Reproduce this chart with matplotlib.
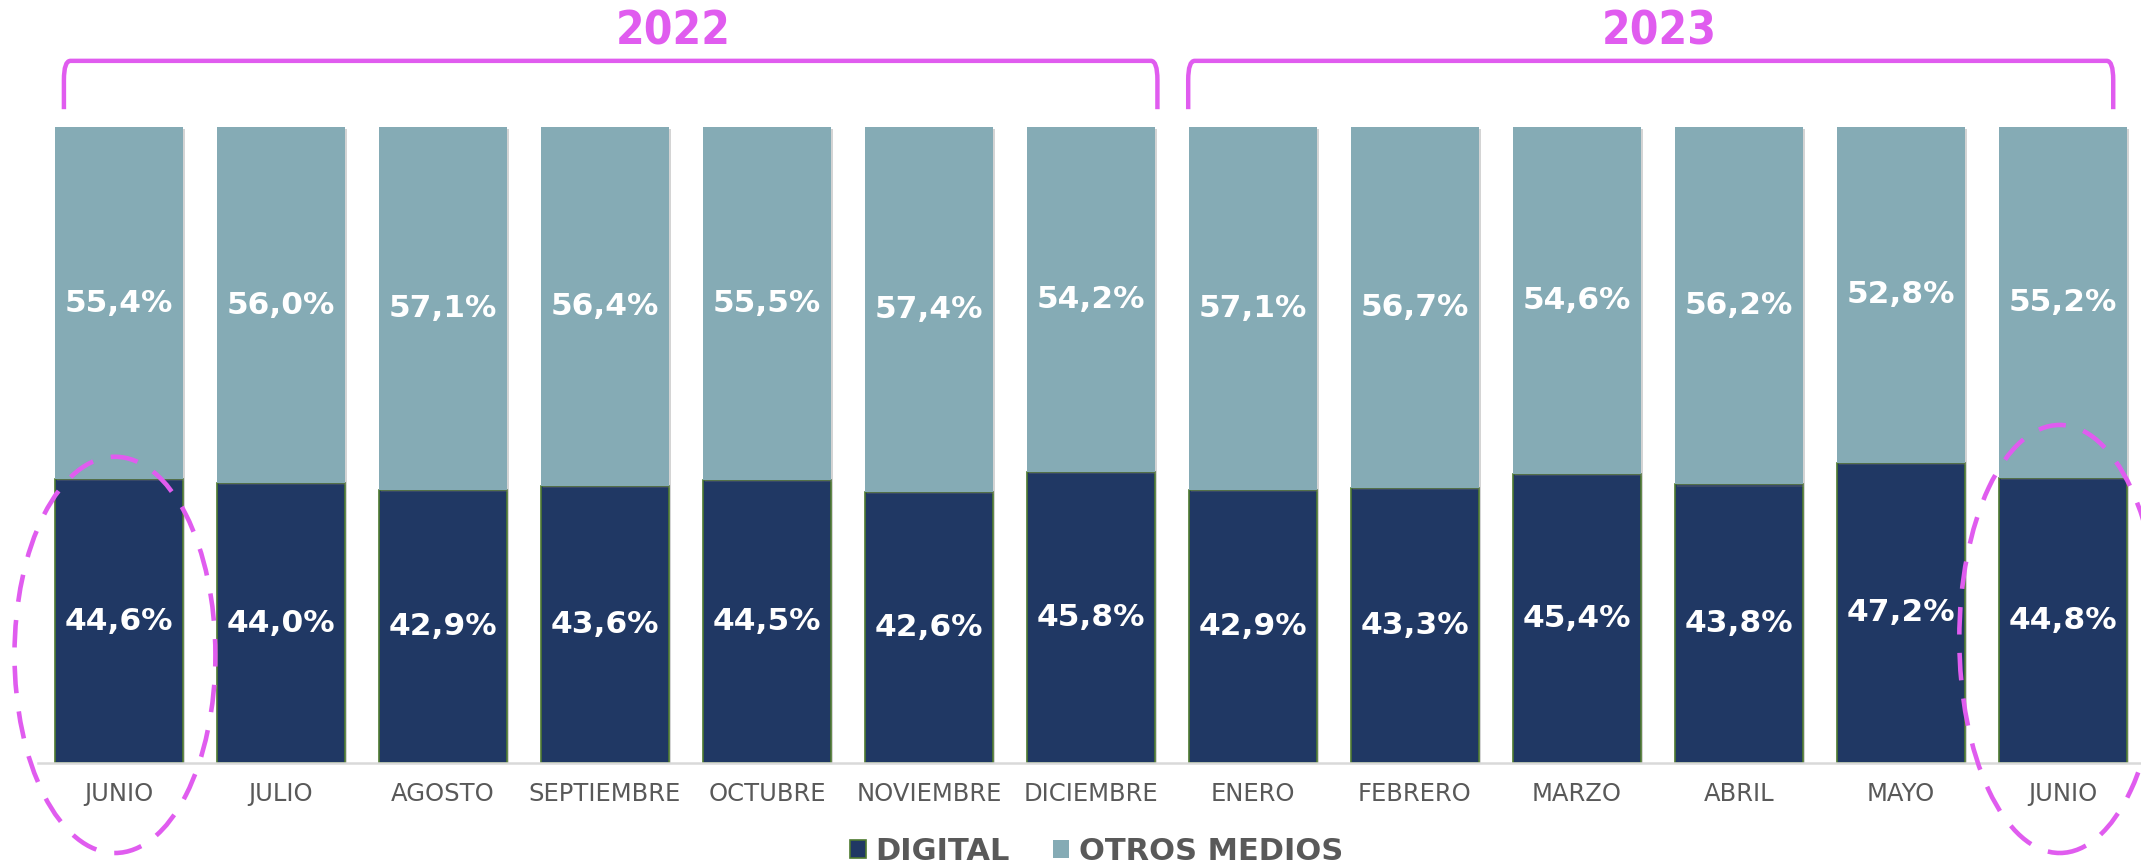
import matplotlib
matplotlib.use("Agg")
import matplotlib.pyplot as plt
import matplotlib.patheffects as pe
from matplotlib.patches import Ellipse, Patch
from matplotlib.path import Path
from matplotlib.patches import PathPatch

# data
meses = ['JUNIO', 'JULIO', 'AGOSTO', 'SEPTIEMBRE', 'OCTUBRE', 'NOVIEMBRE', 'DICIEMBRE',
         'ENERO', 'FEBRERO', 'MARZO', 'ABRIL', 'MAYO', 'JUNIO']
digital = [44.6, 44.0, 42.9, 43.6, 44.5, 42.6, 45.8, 42.9, 43.3, 45.4, 43.8, 47.2, 44.8]
otros = [55.4, 56.0, 57.1, 56.4, 55.5, 57.4, 54.2, 57.1, 56.7, 54.6, 56.2, 52.8, 55.2]
anios = ['2022', '2023']

c_dig = '#203864'
c_otr = '#85ABB5'
c_mag = '#E05CEF'
c_txt = '#595959'

W, H = 2141, 865
fig = plt.figure(figsize=(W/100, H/100), dpi=100)
ax = fig.add_axes([38/W, 102/H, 2106/W, 636/H])

x = list(range(len(meses)))
d = [v/100 for v in digital]
o = [v/100 for v in otros]
shadow = [pe.withSimplePatchShadow(offset=(1.5, -1.5), shadow_rgbFace='0.45', alpha=0.3)]
b1 = ax.bar(x, d, width=0.79, color=c_dig, edgecolor='#4E7A30', linewidth=1.2, zorder=2)
b2 = ax.bar(x, o, width=0.79, bottom=d, color=c_otr, linewidth=0, zorder=2)
for b in list(b1) + list(b2):
    b.set_path_effects(shadow)

for i in x:
    ax.text(i, d[i]/2, f"{digital[i]:.1f}%".replace('.', ','), ha='center', va='center',
            color='white', fontsize=22.5, fontweight='bold', zorder=3)
    ax.text(i, d[i] + o[i]/2, f"{otros[i]:.1f}%".replace('.', ','), ha='center', va='center',
            color='white', fontsize=22.5, fontweight='bold', zorder=3)

ax.set_xlim(-0.5, 12.5)
ax.set_ylim(0, 1)
ax.set_xticks(x)
ax.set_xticklabels(meses, fontsize=17.5, color=c_txt)
ax.tick_params(axis='x', length=0, pad=14)
ax.set_yticks([])
for s in ['top', 'right', 'left']:
    ax.spines[s].set_visible(False)
ax.spines['bottom'].set_color('#D9D9D9')
ax.spines['bottom'].set_linewidth(1.8)

# year brackets
y_top, y_leg, r = 1.104, 1.028, 0.03
ext = [(-0.34, 6.41), (6.6, 12.31)]
lbl_x = [3.42, 9.51]
for (x0, x1), lx, yr in zip(ext, lbl_x, anios):
    verts = [(x0, y_leg), (x0, y_top - r), (x0, y_top), (x0 + 0.04, y_top),
             (x1 - 0.04, y_top), (x1, y_top), (x1, y_top - r), (x1, y_leg)]
    codes = [Path.MOVETO, Path.LINETO, Path.CURVE3, Path.CURVE3,
             Path.LINETO, Path.CURVE3, Path.CURVE3, Path.LINETO]
    ax.add_patch(PathPatch(Path(verts, codes), fill=False, edgecolor=c_mag, lw=3.2,
                           clip_on=False, capstyle='butt', joinstyle='round'))
    ax.text(lx, 1.15, yr, ha='center', va='center', color=c_mag, fontsize=33,
            fontweight='bold', fontstretch='condensed', family='DejaVu Sans', clip_on=False)

# dashed highlight ellipses
for cx, cy, ew, eh in [(-0.025, 0.17, 1.24, 0.623), (11.98, 0.195, 1.24, 0.673)]:
    ax.add_patch(Ellipse((cx, cy), ew, eh, fill=False, edgecolor=c_mag, lw=3.3,
                         linestyle=(0, (6, 4)), clip_on=False, zorder=4))

handles = [Patch(facecolor=c_dig, edgecolor='#4E7A30', linewidth=1.2),
           Patch(facecolor=c_otr, edgecolor='none')]
fig.legend(handles, ['DIGITAL', 'OTROS MEDIOS'], loc='center', bbox_to_anchor=(0.512, 0.016),
           ncol=2, frameon=False, prop={'weight': 'bold', 'size': 22}, labelcolor=c_txt,
           handlelength=0.55, handleheight=0.55, handletextpad=0.3, columnspacing=1.4,
           borderpad=0, borderaxespad=0)

fig.savefig('out.png', dpi=100)
